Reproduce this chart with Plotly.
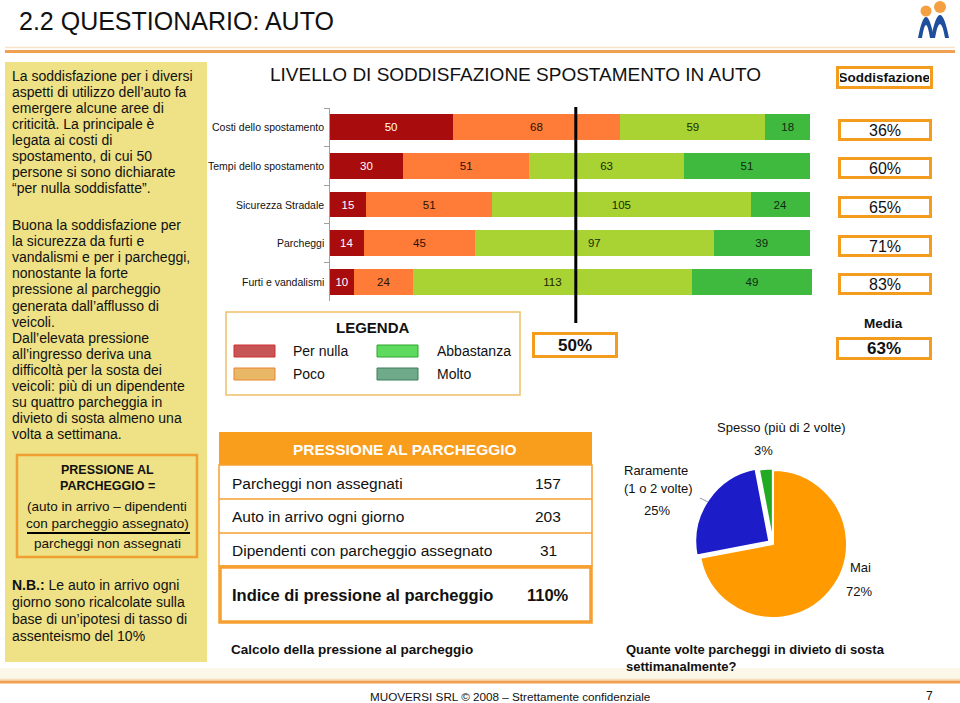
import plotly.graph_objects as go

W, H = 960, 703
FONT = "Liberation Sans, Arial, sans-serif"
ORANGE = "#F39C1E"
INK = "#111111"

# ---------------- data ----------------
categories = ["Costi dello spostamento", "Tempi dello spostamento", "Sicurezza Stradale",
              "Parcheggi", "Furti e vandalismi"]
per_nulla = [50, 30, 15, 14, 10]
poco = [68, 51, 51, 45, 24]
abbastanza = [59, 63, 105, 97, 113]
molto = [18, 51, 24, 39, 49]
soddisfazione = ["36%", "60%", "65%", "71%", "83%"]
media = "63%"
soglia_value = 100
soglia_label = "50%"

series_names = ["Per nulla", "Poco", "Abbastanza", "Molto"]
bar_colors = ["#A80C0C", "#FF7B38", "#A8D332", "#3FBA3F"]
bar_text_colors = ["#FFFFFF", "#2A1200", "#1A2A00", "#0F2A0F"]
legend_fill = ["#C85555", "#E8B866", "#5EDB5E", "#6FAA8A"]
legend_line = ["#D03030", "#E8842E", "#2FA52F", "#3A7F5A"]

table_labels = ["Parcheggi non assegnati", "Auto in arrivo ogni giorno",
                "Dipendenti con parcheggio assegnato"]
table_values = [157, 203, 31]
indice_label = "Indice di pressione al parcheggio"
indice_value = "110%"

pie_labels = ["Mai", "Raramente (1 o 2 volte)", "Spesso (più di 2 volte)"]
pie_values = [72, 25, 3]
pie_colors = ["#FF9A00", "#1C1CC8", "#22AA22"]

text_p1 = ["La soddisfazione per i diversi", "aspetti di utilizzo dell’auto fa",
           "emergere alcune aree di", "criticità. La principale è", "legata ai costi di",
           "spostamento, di cui 50", "persone si sono dichiarate", "“per nulla soddisfatte”."]
text_p2 = ["Buona la soddisfazione per", "la sicurezza da furti e",
           "vandalismi e per i parcheggi,", "nonostante la forte", "pressione al parcheggio",
           "generata dall’afflusso di", "veicoli.", "Dall’elevata pressione",
           "all’ingresso deriva una", "difficoltà per la sosta dei",
           "veicoli: più di un dipendente", "su quattro parcheggia in",
           "divieto di sosta almeno una", "volta a settimana."]
text_nb = ["<b>N.B.:</b> Le auto in arrivo ogni", "giorno sono ricalcolate sulla",
           "base di un’ipotesi di tasso di", "assenteismo del 10%"]


def X(px):
    return px / W


def Y(py):
    return 1 - py / H


shapes = []
annotations = []


def rect(x0, y0, x1, y1, fill=None, line=None, lw=0, layer="above"):
    shapes.append(dict(type="rect", xref="paper", yref="paper",
                       x0=X(x0), x1=X(x1), y0=Y(y1), y1=Y(y0),
                       fillcolor=fill if fill else "rgba(0,0,0,0)",
                       line=dict(color=line if line else "rgba(0,0,0,0)", width=lw),
                       layer=layer))


def hline(x0, x1, y, color, lw):
    shapes.append(dict(type="line", xref="paper", yref="paper", x0=X(x0), x1=X(x1),
                       y0=Y(y), y1=Y(y), line=dict(color=color, width=lw)))


def text(x, y, s, size=14, bold=False, color=INK, anchor="left"):
    annotations.append(dict(x=X(x), y=Y(y), xref="paper", yref="paper",
                            text=f"<b>{s}</b>" if bold else s, showarrow=False,
                            xanchor=anchor, yanchor="middle",
                            font=dict(size=size, color=color, family=FONT)))


def boxed(x, y, s, w, h, size, bold=False, yref="paper", yshift=0):
    annotations.append(dict(x=X(x), y=(Y(y) if yref == "paper" else y), xref="paper", yref=yref,
                            text=f"<b>{s}</b>" if bold else s, showarrow=False,
                            xanchor="center", yanchor="middle", width=w, height=h,
                            bgcolor="white", bordercolor=ORANGE, borderwidth=3, borderpad=1,
                            yshift=yshift, valign="middle",
                            font=dict(size=size, color=INK, family=FONT)))


fig = go.Figure()

# ---------------- stacked bars ----------------
for name, vals, col, tcol in zip(series_names, [per_nulla, poco, abbastanza, molto],
                                 bar_colors, bar_text_colors):
    fig.add_trace(go.Bar(
        y=categories, x=vals, orientation="h", name=name,
        marker=dict(color=col, line=dict(width=0)), width=0.67,
        text=vals, textposition="inside", insidetextanchor="middle", textangle=0,
        textfont=dict(size=11.5, color=tcol, family=FONT),
        hoverinfo="skip", showlegend=False))

# category labels
for c in categories:
    annotations.append(dict(x=X(326), y=c, xref="paper", yref="y", text=c, showarrow=False,
                            xanchor="right", yanchor="middle",
                            font=dict(size=10.5, color=INK, family=FONT)))

# soglia line
shapes.append(dict(type="line", xref="x", yref="paper", x0=soglia_value, x1=soglia_value,
                   y0=Y(323), y1=Y(107), line=dict(color="black", width=3)))
boxed(575, 345, soglia_label, 78, 18, 17, bold=True)

# soddisfazione boxes
boxed(884.5, 77.5, "Soddisfazione", 89, 15, 13.5, bold=True)
for c, s in zip(categories, soddisfazione):
    boxed(885, c, s, 86, 14, 16, yref="y", yshift=-2.5)
text(883, 324, "Media", 13.5, bold=True, anchor="center")
boxed(884, 348.5, media, 88, 15, 17, bold=True)

# ---------------- pie ----------------
cx, cy, r, pull = 773, 544, 74, 0.06
half = r * (1 + pull)
fig.add_trace(go.Pie(
    labels=pie_labels, values=pie_values, sort=False, direction="clockwise", rotation=0,
    marker=dict(colors=pie_colors, line=dict(color="white", width=2)),
    pull=[0, pull, 0.02], textinfo="none", hoverinfo="skip", showlegend=False,
    domain=dict(x=[X(cx - half), X(cx + half)], y=[Y(cy + half), Y(cy - half)])))

text(781, 427, pie_labels[2], 13, anchor="center")
text(763, 451, f"{pie_values[2]}%", 13, anchor="center")
text(622, 471, pie_labels[1].split(" (")[0], 13)
text(622, 489, "(" + pie_labels[1].split(" (")[1], 13)
text(657, 510, f"{pie_values[1]}%", 13, anchor="center")
text(860, 567, pie_labels[0], 13, anchor="center")
text(859, 591, f"{pie_values[0]}%", 13, anchor="center")
shapes.append(dict(type="line", xref="paper", yref="paper", x0=X(700), y0=Y(498),
                   x1=X(708), y1=Y(502), line=dict(color="#8899AA", width=1)))
text(624, 649, "Quante volte parcheggi in divieto di sosta", 13, bold=True)
text(624, 666, "settimanalmente?", 13, bold=True)

# ---------------- title & decorations ----------------
text(17, 21, "2.2 QUESTIONARIO: AUTO", 25)
hline(5, 955, 47.5, "#F8E3C8", 1.5)
hline(5, 955, 51.5, "#F0A050", 3)
text(515, 74, "LIVELLO DI SODDISFAZIONE SPOSTAMENTO IN AUTO", 19, anchor="center")


def P(x, y):
    return f"{X(x):.5f},{Y(y):.5f}"


# logo
shapes.append(dict(type="path", xref="paper", yref="paper", fillcolor="#1E4F9C",
                   line=dict(width=0),
                   path=f"M {P(918,38)} Q {P(926,-4)} {P(934,38)} L {P(930,38)} Q {P(926,12)} {P(922,38)} Z"))
shapes.append(dict(type="path", xref="paper", yref="paper", fillcolor="#1E4F9C",
                   line=dict(width=0),
                   path=f"M {P(931,38)} Q {P(940,-8)} {P(949,38)} L {P(945,38)} Q {P(940,10)} {P(935,38)} Z"))
for (ccx, ccy, rr) in [(926, 11, 5.5), (940, 7, 6)]:
    shapes.append(dict(type="circle", xref="paper", yref="paper",
                       x0=X(ccx - rr), x1=X(ccx + rr), y0=Y(ccy + rr), y1=Y(ccy - rr),
                       fillcolor="#F4A040", line=dict(width=0)))

# left panel
rect(5, 62, 207, 662, fill="#EEE186", layer="below")
for i, s in enumerate(text_p1):
    text(10, 76 + i * 16.0, s, 14)
for i, s in enumerate(text_p2):
    text(10, 225 + i * 16.1, s, 14)
rect(17, 455, 197, 557, line="#F0A030", lw=2.5)
text(107, 470, "PRESSIONE AL", 12.5, bold=True, anchor="center")
text(107, 486, "PARCHEGGIO =", 12.5, bold=True, anchor="center")
text(107, 507, "(auto in arrivo – dipendenti", 13.5, anchor="center")
text(107, 523, "con parcheggio assegnato)", 13.5, anchor="center")
hline(27, 190, 533, "black", 2)
text(107, 543, "parcheggi non assegnati", 13.5, anchor="center")
for i, s in enumerate(text_nb):
    text(10, 585 + i * 17.0, s, 14)

# legend
rect(226, 312, 520, 395, line="#EEC068", lw=1.5)
text(373, 328, "LEGENDA", 15, bold=True, anchor="center")
sw = [(234, 345), (234, 368), (377, 345), (377, 368)]
lab = [(291, 351), (291, 374), (435, 351), (435, 374)]
for (sx, sy), (lx, ly), nm, fc, lc in zip(sw, lab, series_names, legend_fill, legend_line):
    rect(sx, sy, sx + 41, sy + 12, fill=fc, line=lc, lw=1)
    text(lx, ly, nm, 14)

# table
rect(219, 432, 592, 465, fill="#F99D1C")
text(405, 449, "PRESSIONE AL PARCHEGGIO", 15.5, bold=True, color="white", anchor="center")
rect(219, 465, 592, 566, line="#F5A030", lw=1.5)
hline(219, 592, 499, "#F5A030", 1.5)
hline(219, 592, 533, "#F5A030", 1.5)
for i, (lb, v) in enumerate(zip(table_labels, table_values)):
    text(230, 483 + i * 33.7, lb, 15.5)
    text(548, 483 + i * 33.7, str(v), 15.5, anchor="center")
rect(220, 567, 591, 622, line="#F5A030", lw=3.5)
text(230, 595, indice_label, 16.5, bold=True)
text(548, 595, indice_value, 16.5, bold=True, anchor="center")
text(229, 649, "Calcolo della pressione al parcheggio", 13.5, bold=True)

# footer
rect(0, 668, 960, 679, fill="#FBF7E9", layer="below")
hline(0, 960, 679.5, "#F8DDBB", 1.5)
hline(0, 960, 682, "#F0A050", 3)
text(510, 696, "MUOVERSI SRL © 2008 – Strettamente confidenziale", 11.7, anchor="center")
text(929, 696, "7", 12, anchor="center")

# ---------------- layout ----------------
fig.update_layout(
    width=W, height=H, margin=dict(l=0, r=0, t=0, b=0),
    paper_bgcolor="white", plot_bgcolor="rgba(0,0,0,0)",
    barmode="stack", bargap=0.33,
    xaxis=dict(domain=[X(329.5), X(329.5 + 196.5 * 2.463)], range=[0, 196.5],
               visible=False, fixedrange=True),
    yaxis=dict(domain=[Y(301), Y(108)], categoryorder="array", categoryarray=categories,
               autorange="reversed", showline=True, linecolor="#A0A0A0", linewidth=1,
               ticks="outside", tickson="boundaries", ticklen=5, tickcolor="#A0A0A0",
               showticklabels=False, showgrid=False, zeroline=False, fixedrange=True),
    shapes=shapes, annotations=annotations,
    font=dict(family=FONT, color=INK),
)

fig.write_html("out.html", config={"displayModeBar": False},
               post_script="document.body.style.margin='0px';document.body.style.overflow='hidden';")
